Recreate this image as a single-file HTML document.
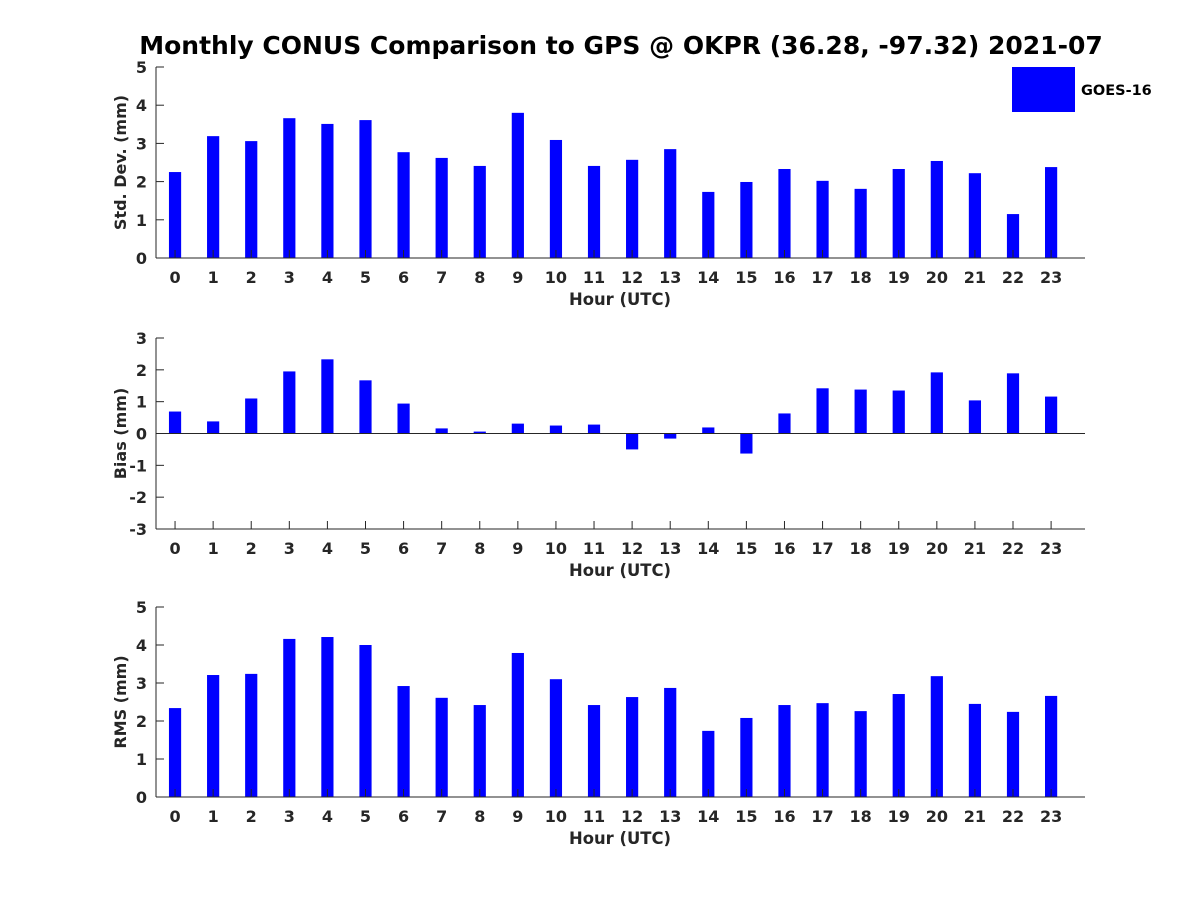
<!DOCTYPE html>
<html><head><meta charset="utf-8"><style>
body{margin:0;background:#fff}
svg{font-family:"DejaVu Sans","Liberation Sans",sans-serif;font-weight:bold}
</style></head><body>
<svg id="c" width="1200" height="900" viewBox="0 0 1200 900">
<text x="621" y="54" text-anchor="middle" font-size="25" fill="#000">Monthly CONUS Comparison to GPS @ OKPR (36.28, -97.32) 2021-07</text>
<rect x="1012" y="67" width="63" height="45" fill="#0000ff"/>
<text x="1081" y="95" font-size="14.5" fill="#000">GOES-16</text>
</svg>
<script>
const hours=[0,1,2,3,4,5,6,7,8,9,10,11,12,13,14,15,16,17,18,19,20,21,22,23];
const stdDev=[2.25,3.19,3.06,3.66,3.51,3.61,2.77,2.62,2.41,3.80,3.09,2.41,2.57,2.85,1.73,1.99,2.33,2.02,1.81,2.33,2.54,2.22,1.15,2.38];
const bias=[0.69,0.38,1.1,1.95,2.33,1.67,0.94,0.16,0.06,0.31,0.25,0.28,-0.5,-0.16,0.19,-0.63,0.63,1.42,1.38,1.35,1.92,1.04,1.89,1.16];
const rms=[2.34,3.21,3.24,4.16,4.21,4.0,2.92,2.61,2.42,3.79,3.1,2.42,2.63,2.87,1.74,2.08,2.42,2.47,2.26,2.71,3.18,2.45,2.24,2.66];
const stdTicks=[0,1,2,3,4,5];
const biasTicks=[-3,-2,-1,0,1,2,3];
const rmsTicks=[0,1,2,3,4,5];
const svg=document.getElementById('c');
const NS='http://www.w3.org/2000/svg';
function mk(t,a){const e=document.createElementNS(NS,t);for(const k in a)e.setAttribute(k,a[k]);svg.appendChild(e);return e;}
const X0=156,X1=1085,XMIN=-0.5,XMAX=23.89;
function xs(v){return X0+(v-XMIN)/(XMAX-XMIN)*(X1-X0);}
function panel(name,vals,ticks,top,bot,ylab){
  const ymin=ticks[0],ymax=ticks[ticks.length-1];
  const ys=v=>bot-(v-ymin)/(ymax-ymin)*(bot-top);
  const bw=(xs(1)-xs(0))*0.32;
  vals.forEach((v,i)=>{
    const y0=ys(0),y1=ys(v);
    const r=mk('rect',{x:xs(hours[i])-bw/2,y:Math.min(y0,y1),width:bw,height:Math.abs(y1-y0),fill:'#0000ff'});
    
    
  });
  const ya=mk('line',{x1:X0,y1:top,x2:X0,y2:bot,stroke:'#262626','stroke-width':1});
  
  
  const xa=mk('line',{x1:X0,y1:bot,x2:X1,y2:bot,stroke:'#262626','stroke-width':1});
  
  
  if(ymin<0){
    const z=mk('line',{x1:X0,y1:ys(0),x2:X1,y2:ys(0),stroke:'#262626','stroke-width':1});
    
    
  }
  ticks.forEach(t=>{
    mk('line',{x1:X0,y1:ys(t),x2:X0+8,y2:ys(t),stroke:'#262626'});
    const tx=mk('text',{x:X0-9,y:ys(t)+6,'text-anchor':'end','font-size':16,fill:'#262626'});
    tx.textContent=t;
    
    
  });
  hours.forEach(h=>{
    mk('line',{x1:xs(h),y1:bot,x2:xs(h),y2:bot-8,stroke:'#262626'});
    const tx=mk('text',{x:xs(h),y:bot+25,'text-anchor':'middle','font-size':16,fill:'#262626'});
    tx.textContent=h;
    
    
  });
  const xl=mk('text',{x:620,y:bot+47,'text-anchor':'middle','font-size':16.4,fill:'#262626'});
  xl.textContent='Hour (UTC)';
  
  
  const cy=(top+bot)/2;
  const yl=mk('text',{x:126,y:cy,'text-anchor':'middle','font-size':16,fill:'#262626',transform:'rotate(-90 126 '+cy+')'});
  yl.textContent=ylab;
  
  
}
panel('std-dev',stdDev,stdTicks,67,258,'Std. Dev. (mm)');
panel('bias',bias,biasTicks,338,529,'Bias (mm)');
panel('rms',rms,rmsTicks,607,797,'RMS (mm)');
</script>
</body></html>
